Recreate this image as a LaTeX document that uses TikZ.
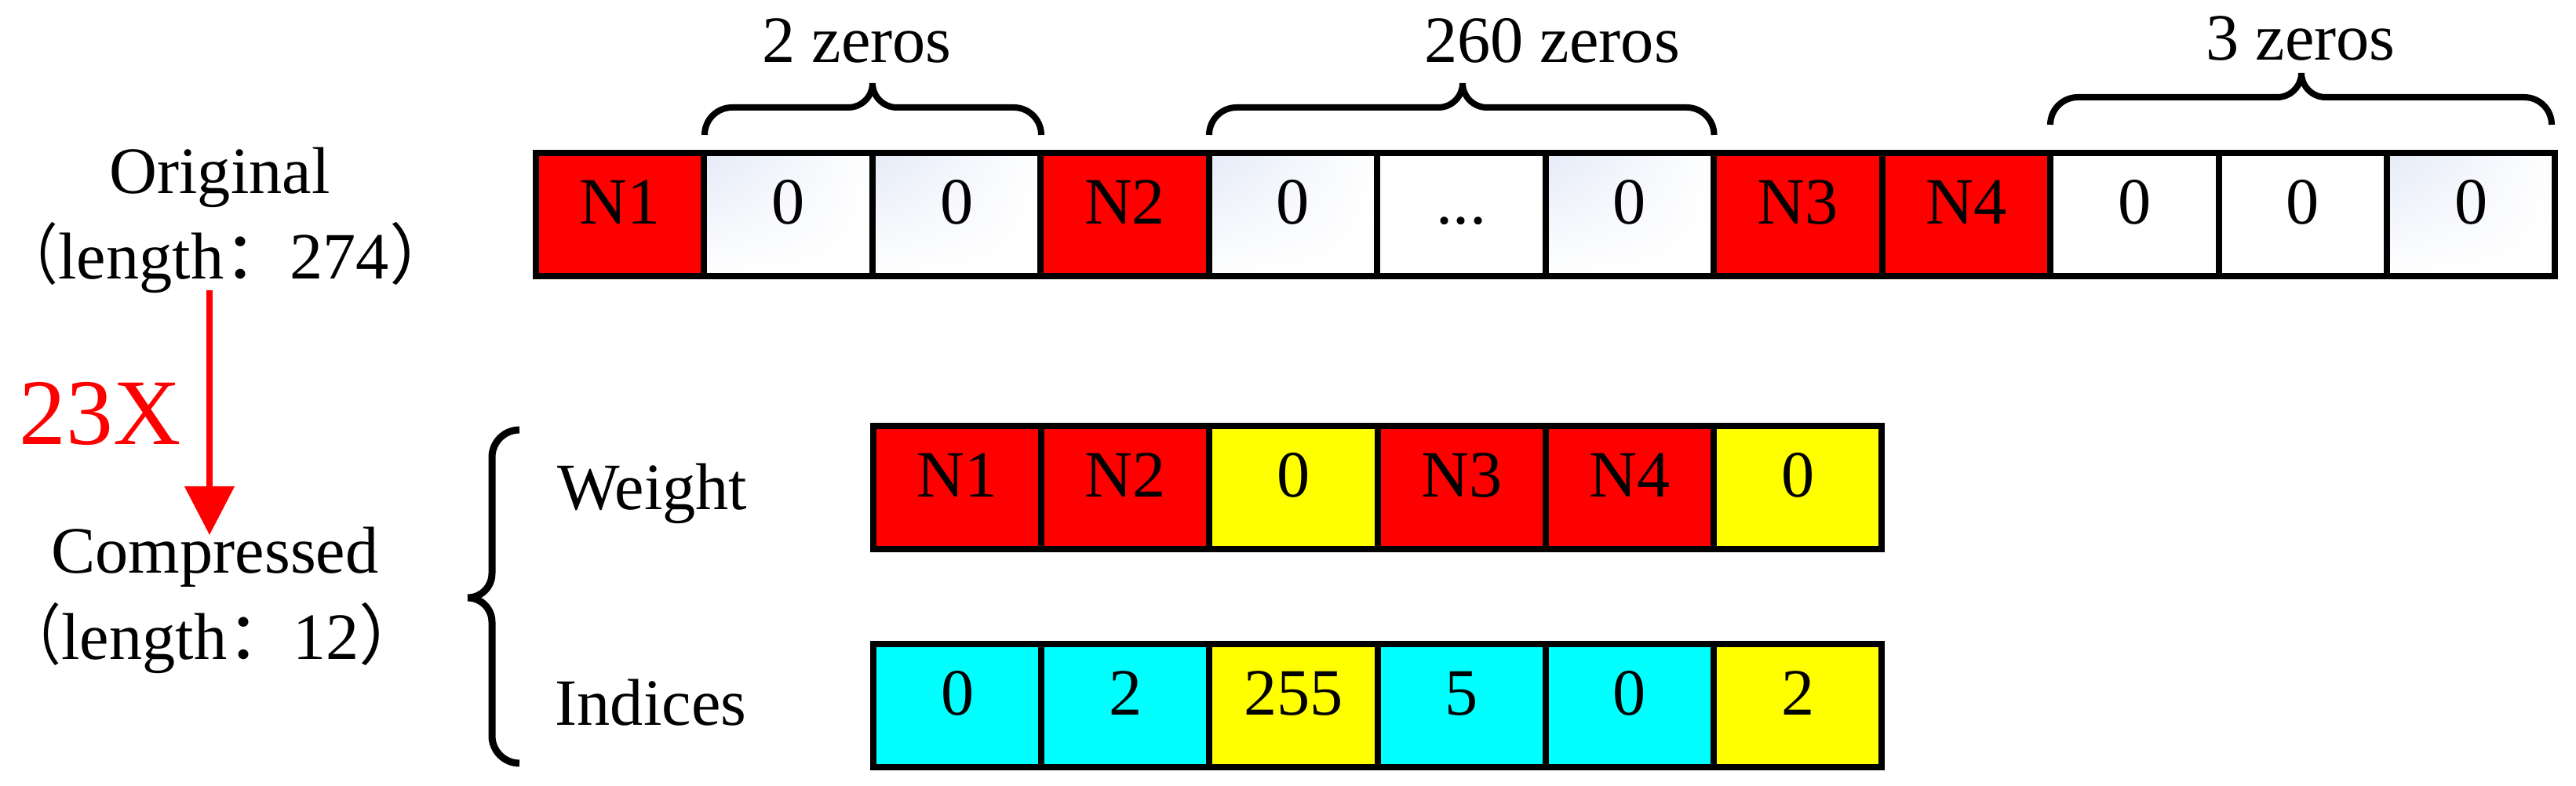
\documentclass[tikz,border=0pt]{standalone}
\usepackage{fontspec}
\setmainfont{Liberation Serif}
\newfontfamily\cjk{Noto Sans CJK SC}
\usetikzlibrary{arrows.meta,shadings}
\definecolor{cellred}{RGB}{255,0,0}
\definecolor{cellyel}{RGB}{255,255,0}
\definecolor{cellcyan}{RGB}{0,255,255}
\definecolor{gradc}{RGB}{228,234,247}
\newcommand{\fw}[1]{{\cjk #1}}
\newcommand{\lpar}{\scalebox{0.85}[1]{\cjk （}}
\newcommand{\rpar}{\makebox[0.5em][l]{\cjk ）}}
\newcommand{\tdots}{...}
\begin{document}
\begin{tikzpicture}[
  cell/.style={draw=black, line width=0.08cm, minimum width=2.144cm, minimum height=1.57cm,
    inner sep=0pt, text height=0.66em, text depth=0pt, font=\fontsize{24}{29}\selectfont},
  redc/.style={fill=cellred},
  yelc/.style={fill=cellyel},
  cyac/.style={fill=cellcyan},
  whc/.style={fill=white},
  grc/.style={shade, shading=bilinear interpolation, upper left=gradc, upper right=white, lower left=white, lower right=white},
  lbl/.style={font=\fontsize{24}{29}\selectfont, inner sep=0pt, anchor=base},
  brc/.style={draw=black, line width=0.08cm},
  redarrow/.style={draw=cellred, line width=0.08cm, -{Triangle[width=0.62cm,length=0.62cm]}}
]
\useasboundingbox (0,0) rectangle (32.83,10.02);

% original row
\foreach \i/\t/\s in {1/N1/redc,2/0/grc,3/0/grc,4/N2/redc,5/0/grc,6/\tdots/whc,7/0/grc,8/N3/redc,9/N4/redc,10/0/whc,11/0/whc,12/0/grc}
  \node[cell,\s] (t\i) at ({(683+214.45*(\i-0.5))/100},7.285) {\t};

% weight row
\foreach \i/\t/\s in {1/N1/redc,2/N2/redc,3/0/yelc,4/N3/redc,5/N4/redc,6/0/yelc}
  \node[cell,\s] (w\i) at ({(1113+214.2*(\i-0.5))/100},3.805) {\t};

% indices row
\foreach \i/\t/\s in {1/0/cyac,2/2/cyac,3/255/yelc,4/5/cyac,5/0/cyac,6/2/yelc}
  \node[cell,\s] (x\i) at ({(1113+214.2*(\i-0.5))/100},1.025) {\t};

% left labels
\node[lbl] (orig1) at (2.80,7.55) {Original};
\node[lbl, anchor=base west] (orig2) at (0.02,6.46) {\lpar length\fw{：}274\rpar};
\node[lbl] (comp1) at (2.74,2.71) {Compressed};
\node[lbl, anchor=base west] (comp2) at (0.06,1.61) {\lpar length\fw{：}12\rpar};
\node[lbl, anchor=base west, text=cellred, font=\fontsize{34}{40}\selectfont] (ratio) at (0.24,4.35) {23X};
\node[lbl, anchor=base west] (wlbl) at (7.10,3.52) {Weight};
\node[lbl, anchor=base west] (ilbl) at (7.07,0.77) {Indices};

% arrow
\coordinate (atop) at (2.67,6.32);
\coordinate (abot) at (2.67,3.20);
\draw[redarrow] (atop) -- (abot);

% top labels
\node[lbl] (z1) at (10.92,9.22) {2 zeros};
\node[lbl] (z2) at (19.78,9.22) {260 zeros};
\node[lbl] (z3) at (29.32,9.25) {3 zeros};

% top braces
\draw[brc] (8.98,8.30) arc[start angle=180,end angle=90,radius=0.35] -- (10.81,8.65)
  arc[start angle=270,end angle=360,radius=0.31] arc[start angle=180,end angle=270,radius=0.31]
  -- (12.92,8.65) arc[start angle=90,end angle=0,radius=0.35];
\draw[brc] (15.41,8.30) arc[start angle=180,end angle=90,radius=0.35] -- (18.33,8.65)
  arc[start angle=270,end angle=360,radius=0.31] arc[start angle=180,end angle=270,radius=0.31]
  -- (21.495,8.65) arc[start angle=90,end angle=0,radius=0.35];
\draw[brc] (26.13,8.43) arc[start angle=180,end angle=90,radius=0.35] -- (29.02,8.78)
  arc[start angle=270,end angle=360,radius=0.31] arc[start angle=180,end angle=270,radius=0.31]
  -- (32.17,8.78) arc[start angle=90,end angle=0,radius=0.35];

% left brace
\draw[brc, line width=0.09cm] (6.62,4.54) arc[start angle=90,end angle=180,radius=0.35] -- (6.27,2.71)
  arc[start angle=0,end angle=-90,radius=0.31] arc[start angle=90,end angle=0,radius=0.31]
  -- (6.27,0.64) arc[start angle=180,end angle=270,radius=0.35];
\end{tikzpicture}
\end{document}
